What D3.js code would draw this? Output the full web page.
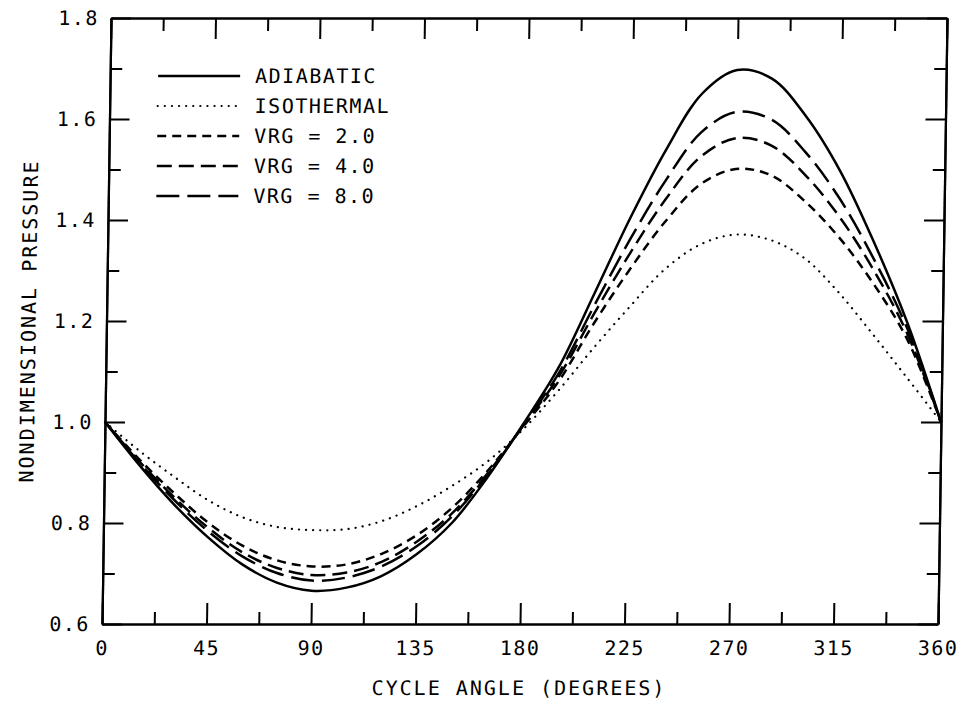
<!DOCTYPE html>
<html>
<head>
<meta charset="utf-8">
<script src="https://cdn.jsdelivr.net/npm/d3@7"></script>
<style>
  body { margin: 0; background: #fff; }
  text { font-family: "DejaVu Sans Mono", monospace; font-size: 20px; fill: #000; letter-spacing: 1.5px; }
</style>
</head>
<body>
<svg id="chart" width="962" height="705"></svg>
<script>
// values, every 15 degrees
const angles     = [0, 15, 30, 45, 60, 75, 90, 105, 120, 135, 150, 165, 180, 195, 210, 225, 240, 255, 270, 285, 300, 315, 330, 345, 360];
const adiabatic  = [1.000, 0.915, 0.838, 0.772, 0.718, 0.682, 0.666, 0.672, 0.695, 0.738, 0.800, 0.890, 0.995, 1.108, 1.255, 1.405, 1.540, 1.650, 1.697, 1.680, 1.605, 1.497, 1.356, 1.195, 1.000];
const isothermal = [1.000, 0.943, 0.892, 0.845, 0.811, 0.792, 0.786, 0.788, 0.804, 0.834, 0.874, 0.922, 0.985, 1.062, 1.147, 1.227, 1.302, 1.351, 1.371, 1.361, 1.325, 1.257, 1.174, 1.088, 1.000];
const vrg2       = [1.000, 0.926, 0.860, 0.801, 0.755, 0.726, 0.714, 0.718, 0.739, 0.776, 0.830, 0.903, 0.990, 1.080, 1.196, 1.302, 1.397, 1.471, 1.501, 1.489, 1.437, 1.365, 1.274, 1.163, 1.000];
const vrg4       = [1.000, 0.922, 0.852, 0.791, 0.742, 0.711, 0.697, 0.702, 0.723, 0.763, 0.819, 0.898, 0.992, 1.089, 1.215, 1.334, 1.441, 1.526, 1.562, 1.548, 1.489, 1.406, 1.301, 1.174, 1.000];
const vrg8       = [1.000, 0.920, 0.847, 0.784, 0.734, 0.701, 0.686, 0.692, 0.714, 0.754, 0.813, 0.895, 0.993, 1.096, 1.231, 1.362, 1.479, 1.574, 1.614, 1.599, 1.534, 1.442, 1.323, 1.184, 1.000];

const seriesNames = ["ADIABATIC", "ISOTHERMAL", "VRG = 2.0", "VRG = 4.0", "VRG = 8.0"];
const seriesValues = [adiabatic, isothermal, vrg2, vrg4, vrg8];
const dashes = [null, "0.1,7", "9,6", "15,7", "23,8"];

const xTicks = [0, 45, 90, 135, 180, 225, 270, 315, 360];
const xMinor = [22.5, 67.5, 112.5, 157.5, 202.5, 247.5, 292.5, 337.5];
const yTicks = [0.6, 0.8, 1.0, 1.2, 1.4, 1.6, 1.8];
const yMinor = [0.7, 0.9, 1.1, 1.3, 1.5, 1.7];

const margin = {top: 18, left: 102, right: 24, bottom: 81};
const width = 962 - margin.left - margin.right;
const height = 705 - margin.top - margin.bottom;

const svg = d3.select("#chart");

// the scan is slightly sheared: the top of the frame sits ~9px right of the bottom
const plotBottom = margin.top + height;
const root = svg.append("g")
  .attr("transform", `translate(0,${plotBottom}) skewX(-0.85) translate(0,${-plotBottom})`);

const g = root.append("g")
  .attr("transform", `translate(${margin.left},${margin.top})`);

const x = d3.scaleLinear().domain([0, 360]).range([0, width]);
const y = d3.scaleLinear().domain([0.6, 1.8]).range([height, 0]);

function styleAxis(sel) {
  sel.select(".domain").attr("stroke", "#000").attr("stroke-width", 2.2);
  sel.selectAll(".tick line").attr("stroke", "#000").attr("stroke-width", 2);
  sel.selectAll("text").attr("fill", "#000").style("font-size", "20px")
    .style("font-family", '"DejaVu Sans Mono", monospace');
}

// bottom
g.append("g").attr("transform", `translate(0,${height})`)
  .call(d3.axisBottom(x).tickValues(xTicks).tickSize(-21).tickSizeOuter(0).tickPadding(17).tickFormat(d3.format("d")))
  .call(styleAxis);
g.append("g").attr("transform", `translate(0,${height})`)
  .call(d3.axisBottom(x).tickValues(xMinor).tickSize(-12).tickSizeOuter(0).tickFormat(""))
  .call(styleAxis);
// top
g.append("g")
  .call(d3.axisTop(x).tickValues(xTicks).tickSize(-21).tickSizeOuter(0).tickFormat(""))
  .call(styleAxis);
g.append("g")
  .call(d3.axisTop(x).tickValues(xMinor).tickSize(-13).tickSizeOuter(0).tickFormat(""))
  .call(styleAxis);
// left
g.append("g")
  .call(d3.axisLeft(y).tickValues(yTicks).tickSize(-20).tickSizeOuter(0).tickPadding(12).tickFormat(d3.format(".1f")))
  .call(styleAxis);
g.append("g")
  .call(d3.axisLeft(y).tickValues(yMinor).tickSize(-12).tickSizeOuter(0).tickFormat(""))
  .call(styleAxis);
// right
g.append("g").attr("transform", `translate(${width},0)`)
  .call(d3.axisRight(y).tickValues(yTicks).tickSize(-20).tickSizeOuter(0).tickFormat(""))
  .call(styleAxis);
g.append("g").attr("transform", `translate(${width},0)`)
  .call(d3.axisRight(y).tickValues(yMinor).tickSize(-12).tickSizeOuter(0).tickFormat(""))
  .call(styleAxis);

// curves
const line = d3.line()
  .x((d, i) => x(angles[i]))
  .y(d => y(d))
  .curve(d3.curveCatmullRom.alpha(0.5));

seriesValues.forEach((vals, i) => {
  g.append("path")
    .datum(vals)
    .attr("d", line)
    .attr("fill", "none")
    .attr("stroke", "#000")
    .attr("stroke-width", i == 1 ? 2.2 : 2.5)
    .attr("stroke-linecap", i == 1 ? "round" : "butt")
    .attr("stroke-dasharray", dashes[i]);
});

// legend
const legend = root.append("g");
seriesNames.forEach((name, i) => {
  const ly = 76 + i * 30;
  legend.append("line")
    .attr("x1", 150).attr("x2", 232)
    .attr("y1", ly).attr("y2", ly)
    .attr("stroke", "#000")
    .attr("stroke-width", i == 1 ? 2.2 : 2.5)
    .attr("stroke-linecap", i == 1 ? "round" : "butt")
    .attr("stroke-dasharray", dashes[i]);
  legend.append("text")
    .attr("x", 247).attr("y", ly)
    .attr("dy", "0.36em")
    .text(name);
});

// axis titles
root.append("text")
  .attr("x", margin.left + width / 2)
  .attr("y", 688)
  .attr("dy", "0.36em")
  .attr("text-anchor", "middle")
  .style("letter-spacing", "2px")
  .text("CYCLE ANGLE (DEGREES)");

root.append("text")
  .attr("transform", `translate(24,${margin.top + height / 2}) rotate(-90)`)
  .attr("dy", "0.36em")
  .attr("text-anchor", "middle")
  .style("letter-spacing", "2px")
  .text("NONDIMENSIONAL PRESSURE");
</script>
</body>
</html>
